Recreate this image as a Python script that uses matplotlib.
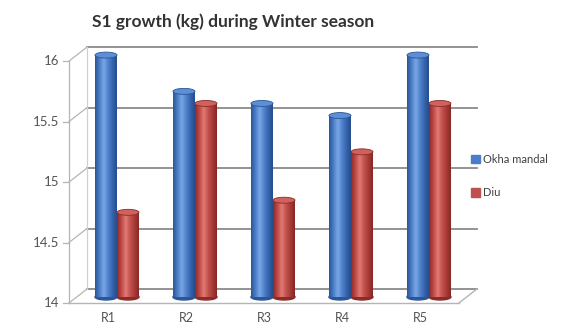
import numpy as np
import matplotlib
matplotlib.use("Agg")
import matplotlib.pyplot as plt
from matplotlib.colors import LinearSegmentedColormap
from matplotlib.patches import Ellipse, Patch

# data
categories = ["R1", "R2", "R3", "R4", "R5"]
okha = [16.0, 15.7, 15.6, 15.5, 16.0]
diu = [14.7, 15.6, 14.8, 15.2, 15.6]
series_names = ["Okha mandal", "Diu"]
yticks = [14, 14.5, 15, 15.5, 16]

W, H, DPI = 5.76, 3.26, 100
fig = plt.figure(figsize=(W, H), dpi=DPI)
ax = fig.add_axes([0.1354, 0.089, 0.677, 0.742])
x0, x1 = -0.5, len(categories) - 0.5
y0, y1 = 14, 16
ax.set_xlim(x0, x1)
ax.set_ylim(y0, y1)
ax.axis("off")

# pixel -> data unit helpers for the fake depth
xpx = W * DPI * 0.677 / (x1 - x0)
ypx = H * DPI * 0.742 / (y1 - y0)
fx, fy = -9 / xpx, -6 / ypx     # front plane
bx, by = 9 / xpx, 8 / ypx       # back wall

grid_c = "#8a8a8a"
axis_c = "#b5b5b5"

# back wall gridlines
for v in yticks:
    ax.plot([x0 + bx, x1 + bx], [v + by, v + by], color=grid_c, lw=1.3, zorder=1, clip_on=False)
    # side wall connectors
    ax.plot([x0 + fx, x0 + bx], [v + fy, v + by], color=axis_c, lw=0.9, zorder=1, clip_on=False)
    # tick marks
    ax.plot([x0 + fx - 6 / xpx, x0 + fx], [v + fy, v + fy], color=axis_c, lw=0.9, zorder=1, clip_on=False)
    ax.text(x0 + fx - 10 / xpx, v + fy, f"{v:g}", ha="right", va="center",
            fontsize=9.5, color="#555555", family="Lato")

ax.plot([x0 + bx] * 2, [y0 + by, y1 + by], color="#d0d0d0", lw=0.9, zorder=1, clip_on=False)
ax.plot([x0 + fx] * 2, [y0 + fy, y1 + fy], color=axis_c, lw=0.9, zorder=1, clip_on=False)
# floor
ax.plot([x0 + fx, x1 + fx], [y0 + fy, y0 + fy], color=axis_c, lw=1.0, zorder=1, clip_on=False)
ax.plot([x1 + fx, x1 + bx], [y0 + fy, y0 + by], color=axis_c, lw=1.0, zorder=1, clip_on=False)

# cylinder shading
blue = LinearSegmentedColormap.from_list(
    "blue_cyl", ["#2c5597", "#4a7ec8", "#7aa6e6", "#4f83cc", "#3565ad", "#264c8c"])
red = LinearSegmentedColormap.from_list(
    "red_cyl", ["#8b2b28", "#c04a46", "#e07a74", "#c4524e", "#a83b37", "#852825"])
grad = np.linspace(0, 1, 64).reshape(1, -1)

bw = 22 / xpx
cap_h = 6 / ypx


def cylinder(xc, val, cmap, top_c, bot_c):
    ax.add_patch(Ellipse((xc, y0), bw, cap_h, color=bot_c, zorder=2, clip_on=False))
    ax.imshow(grad, cmap=cmap, aspect="auto", extent=[xc - bw / 2, xc + bw / 2, y0, val],
              zorder=3, interpolation="bilinear")
    ax.add_patch(Ellipse((xc, val), bw, cap_h, facecolor=top_c, edgecolor=bot_c,
                         lw=0.6, zorder=4, clip_on=False))


xs = np.arange(len(categories))
for i in xs:
    cylinder(i - bw / 2, okha[i], blue, "#5d8fd6", "#2c5597")
    cylinder(i + bw / 2, diu[i], red, "#d0625d", "#8b2b28")
    ax.text(i + fx, y0 + fy - 9 / ypx, categories[i], ha="center", va="top",
            fontsize=9, color="#555555", family="Lato")

ax.set_xlim(x0, x1)
ax.set_ylim(y0, y1)

fig.text(92 / 576, 1 - 22 / 326, "S1 growth (kg) during Winter season", ha="left", va="center",
         fontsize=12.5, fontweight="bold", color="#333333", family="Lato")

handles = [Patch(color="#4a7ec8"), Patch(color="#c0504d")]
fig.legend(handles, series_names, loc="center left", bbox_to_anchor=(0.8, 0.46),
           frameon=False, handlelength=0.8, handleheight=0.8, handletextpad=0.3,
           labelspacing=2.0, prop={"family": "Lato", "size": 8}, labelcolor="#404040")

fig.savefig("out.png", dpi=DPI)
